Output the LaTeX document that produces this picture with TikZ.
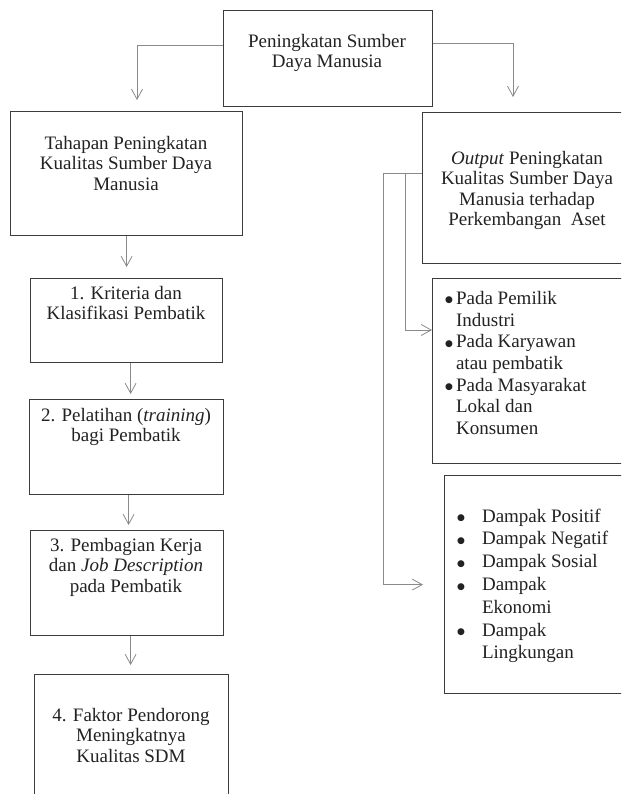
\documentclass[tikz,border=0pt]{standalone}
\usepackage{fontspec}
\setmainfont{Liberation Serif}
\newfontfamily\dejavu{DejaVu Sans}
\usetikzlibrary{arrows.meta}
\definecolor{boxc}{HTML}{3C3C3C}
\definecolor{linec}{HTML}{8A8A8A}
\definecolor{txtc}{HTML}{222222}
\newcommand\myfs{\fontsize{19}{20.5}\selectfont}
\newcommand\myfsa{\fontsize{19}{21.7}\selectfont}
\newcommand\myfsb{\fontsize{19}{22.8}\selectfont}
\newcommand\mybul{\raisebox{1.5pt}{\dejavu\fontsize{9}{9}\selectfont ●}}
\begin{document}
\begin{tikzpicture}[x=1pt,y=-1pt,
  box/.style={draw=boxc, line width=1.2pt, inner sep=0pt, anchor=north west},
  conn/.style={draw=linec, line width=0.9pt},
  arr/.style={conn, -{Straight Barb[length=10pt,width=11pt,line width=0.8pt]}},
  txt/.style={inner sep=0pt, align=center, anchor=north, font=\myfs, text=txtc},
  lst/.style={inner sep=0pt, anchor=north west, text=txtc},
]
\useasboundingbox (0,0) rectangle (621,794);
\clip (0,0) rectangle (621,794);
\fill[white] (0,0) rectangle (621,794);

% boxes
\node[box, minimum width=209pt, minimum height=96pt] (top) at (223,10) {};
\node[box, minimum width=232pt, minimum height=124pt] (tahapan) at (10,111) {};
\node[box, minimum width=192pt, minimum height=84pt] (kriteria) at (30,278) {};
\node[box, minimum width=194pt, minimum height=95pt] (pelatihan) at (29,399) {};
\node[box, minimum width=193pt, minimum height=105pt] (pembagian) at (30,530) {};
\node[box, minimum width=194pt, minimum height=140pt] (faktor) at (34,674) {};
\node[box, minimum width=220pt, minimum height=151pt] (output) at (422,112) {};
\node[box, minimum width=210pt, minimum height=185pt] (bullet) at (432,278) {};
\node[box, minimum width=200pt, minimum height=218pt] (dampak) at (444,475) {};

% texts
\node[txt] (t0) at (327,34) {Peningkatan Sumber\\Daya Manusia};
\node[txt] (t1) at (126,136) {Tahapan Peningkatan\\Kualitas Sumber Daya\\Manusia};
\node[txt] (t2) at (126,286) {1. Kriteria dan\\Klasifikasi Pembatik};
\node[txt] (t3) at (126,408) {2. Pelatihan (\textit{training})\\bagi Pembatik};
\node[txt] (t4) at (126,538) {3. Pembagian Kerja\\dan \textit{Job Description}\\pada Pembatik};
\node[txt] (t5) at (131,708) {4. Faktor Pendorong\\Meningkatnya\\Kualitas SDM};
\node[txt] (t6) at (527,151) {\textit{Output} Peningkatan\\Kualitas Sumber Daya\\Manusia terhadap\\Perkembangan~~Aset};

\node[lst] (t7) at (445,289) {\myfsa\begin{tabular}{@{}l@{\hspace{3pt}}l@{}}
\mybul & Pada Pemilik\\
 & Industri\\
\mybul & Pada Karyawan\\
 & atau pembatik\\
\mybul & Pada Masyarakat\\
 & Lokal dan\\
 & Konsumen
\end{tabular}};

\node[lst] (t8) at (457,506) {\myfsb\begin{tabular}{@{}l@{\hspace{17pt}}l@{}}
\mybul & Dampak Positif\\
\mybul & Dampak Negatif\\
\mybul & Dampak Sosial\\
\mybul & Dampak\\
 & Ekonomi\\
\mybul & Dampak\\
 & Lingkungan
\end{tabular}};

% connectors
\coordinate (l1) at (137,45);
\coordinate (l2) at (137,100);
\draw[arr] (top.west |- l1) -- (l1) -- (l2);
\coordinate (r1) at (513,43);
\coordinate (r2) at (513,97);
\draw[arr] (top.east |- r1) -- (r1) -- (r2);

\draw[arr, shorten >=11pt] (tahapan.south) -- (tahapan.south |- kriteria.north);
\draw[arr, shorten >=5pt] ([xshift=4pt]kriteria.south) -- ([xshift=4pt]kriteria.south |- pelatihan.north);
\draw[arr, shorten >=5pt] ([xshift=2pt]pelatihan.south) -- ([xshift=2pt]pelatihan.south |- pembagian.north);
\draw[arr, shorten >=9pt] ([xshift=3.5pt]pembagian.south) -- ([xshift=3.5pt]pembagian.south |- faktor.north);

\coordinate (ob) at (383,173);
\draw[arr, shorten >=21pt] (output.west |- ob) -- (ob) |- (dampak.west);
\coordinate (ib) at (405,173);
\coordinate (it) at (432,330);
\draw[arr] (ib) |- (it);
\end{tikzpicture}
\end{document}
